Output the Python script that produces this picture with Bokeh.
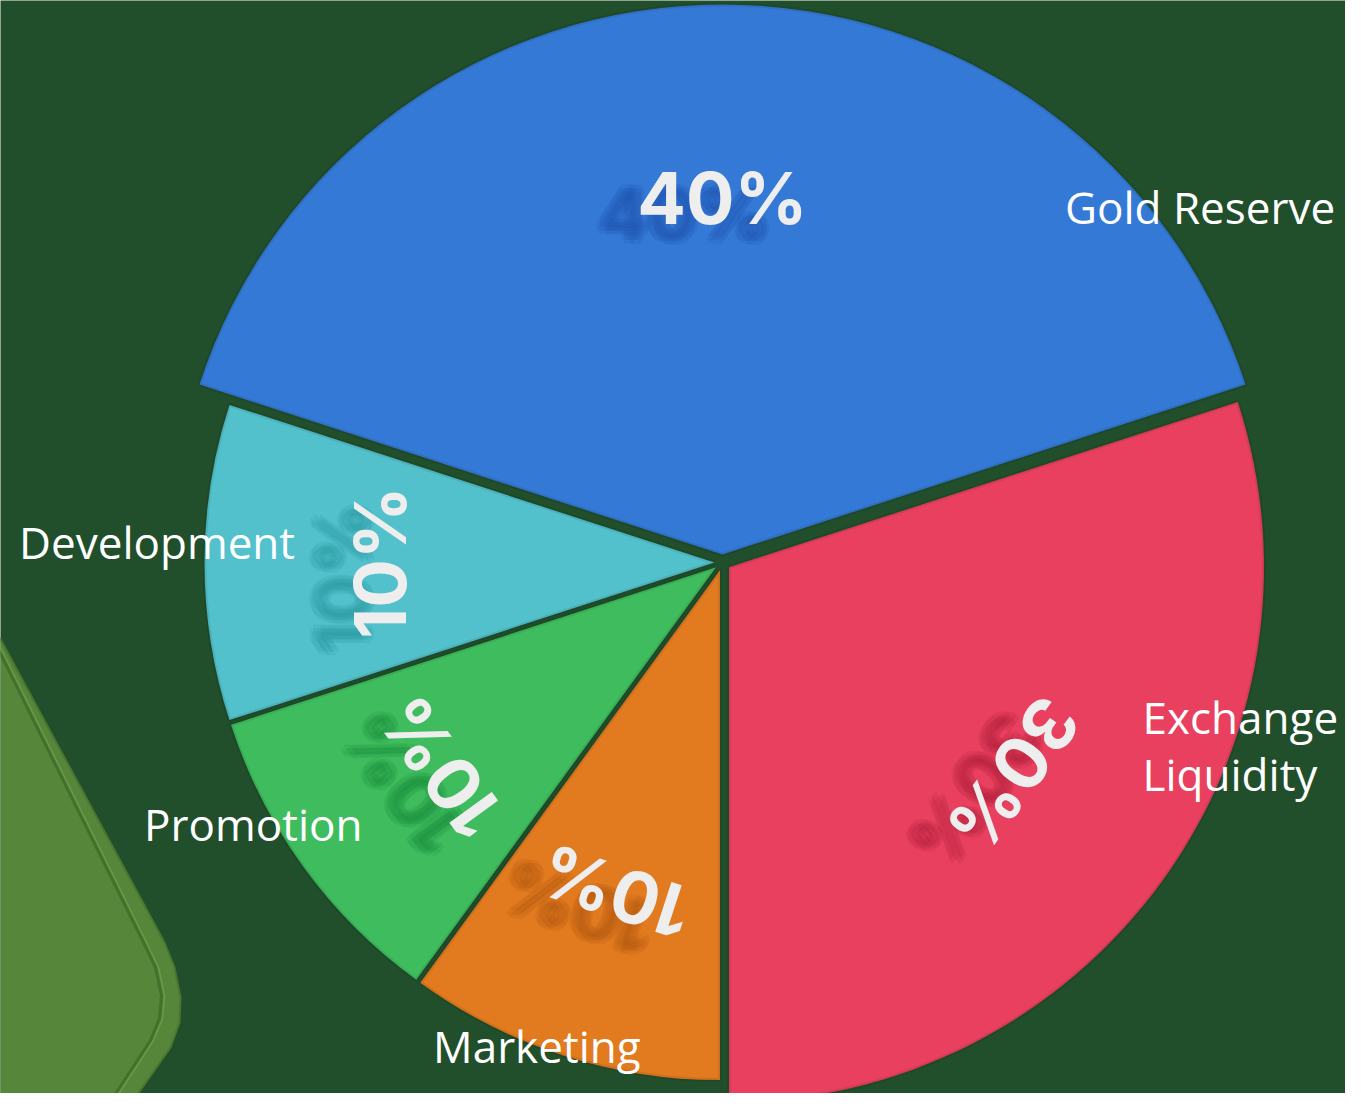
import math
from bokeh.plotting import figure
from bokeh.models import Range1d, ColumnDataSource
from bokeh.core.properties import value
from bokeh.embed import file_html
from bokeh.resources import INLINE

# ---- data ----
categories = ["Gold Reserve", "Development", "Promotion", "Marketing", "Exchange Liquidity"]
shares = [40, 10, 10, 10, 30]
pct_labels = ["40%", "10%", "10%", "10%", "30%"]
label_texts = ["Gold Reserve", "Development", "Promotion", "Marketing", "Exchange\nLiquidity"]

# ---- style ----
BG = "#214f2c"
colors = ["#3479d6", "#52c1cb", "#3fbd5e", "#e27a1f", "#e8405e"]
shadow_colors = ["#1a4fa8", "#23959f", "#178a36", "#a9520c", "#a91d3c"]
radii = [550, 510, 510, 510, 535]
START_DEG = 18
EXPLODE = 8
PCT_R = [357, 335, 340, 338, 352]
LINE_GAP = 57
# label anchors (polar around centre: angle deg, radius px, align)
label_polar = [(46.1, 494, "left"), (177.2, 428, "right"), (216, 445, "right"),
               (249, 518, "center"), (-23.5, 458, "left")]

W, H = 1345, 1093
def py(page_y):
    return 1109 - page_y

CX, CY = 730, py(570)
rad = math.radians

p = figure(width=W, height=H, output_backend="svg", toolbar_location=None,
           x_range=Range1d(8, 8 + W), y_range=Range1d(1109 - 8 - H, 1109 - 8),
           min_border=0, background_fill_color=BG, border_fill_color=BG,
           outline_line_color=None)
p.axis.visible = False
p.grid.visible = False

# decorative olive shape at lower-left
deco_x = [-20, 0, 172, 182, 188, 187, 178, 140, 120, -20]
deco_y = [py(590), py(632), py(950), py(975), py(1005), py(1030), py(1055), py(1109), py(1130), py(1130)]
p.patch(deco_x, deco_y, fill_color="#56863a", line_color="#4a7630", line_width=2)
inner_x = [-20, 0, 152, 163, 169, 167, 158, 118]
inner_y = [py(605), py(645), py(952), py(975), py(1003), py(1026), py(1048), py(1109)]
p.line(inner_x, inner_y, line_color="#3f6a27", line_width=3, line_alpha=0.8)
p.line([x + 3 for x in inner_x], inner_y, line_color="#7aa555", line_width=1.5, line_alpha=0.6)

# wedges
starts, ends, mids = [], [], []
a = START_DEG
for s in shares:
    span = s / sum(shares) * 360
    starts.append(rad(a))
    ends.append(rad(a + span))
    mids.append(a + span / 2)
    a += span

xs = [CX + EXPLODE * math.cos(rad(m)) for m in mids]
ys = [CY + EXPLODE * math.sin(rad(m)) for m in mids]

src = ColumnDataSource(dict(x=xs, y=ys, r=radii, start=starts, end=ends, color=colors,
                            cat=categories))
p.wedge(x="x", y="y", radius="r", start_angle="start", end_angle="end",
        fill_color="color", line_color=None, source=src)

# subtle rim
p.wedge(x="x", y="y", radius="r", start_angle="start", end_angle="end",
        fill_color=None, line_color="#000000", line_alpha=0.08,
        line_width=4, source=src)

# percentage labels with blurred shadow
px = [xs[i] + PCT_R[i] * math.cos(rad(mids[i])) for i in range(len(shares))]
pyy = [ys[i] + PCT_R[i] * math.sin(rad(mids[i])) for i in range(len(shares))]
tang = [rad(m - 90) for m in mids]

jitter = [(0, 0), (-4, -3), (4, 3), (-3, 4), (3, -4), (-6, 0), (6, 0)]
for dx, dy in jitter:
    p.text(x=[v - 38 + dx for v in px], y=[v - 16 + dy for v in pyy], text=pct_labels,
           angle=tang, text_color=shadow_colors, text_alpha=0.14,
           text_font=value("Inter"), text_font_style="bold", text_font_size="72px",
           text_align="center", text_baseline="middle")
p.text(x=px, y=pyy, text=pct_labels, angle=tang,
       text_color="#eeeeee", text_font=value("Inter"), text_font_style="bold",
       text_font_size="72px", text_align="center", text_baseline="middle")

# category labels
for i, (ang, r, al) in enumerate(label_polar):
    lx = CX + r * math.cos(rad(ang))
    ly = CY + r * math.sin(rad(ang))
    lines = label_texts[i].split("\n")
    n = len(lines)
    for k, ln in enumerate(lines):
        off = ((n - 1) / 2 - k) * LINE_GAP
        p.text(x=[lx], y=[ly + off], text=[ln], text_color="#ffffff",
               text_font=value("Open Sans"), text_font_size="44px",
               text_align=al, text_baseline="middle")

open("out.html", "w").write(file_html(p, INLINE))
